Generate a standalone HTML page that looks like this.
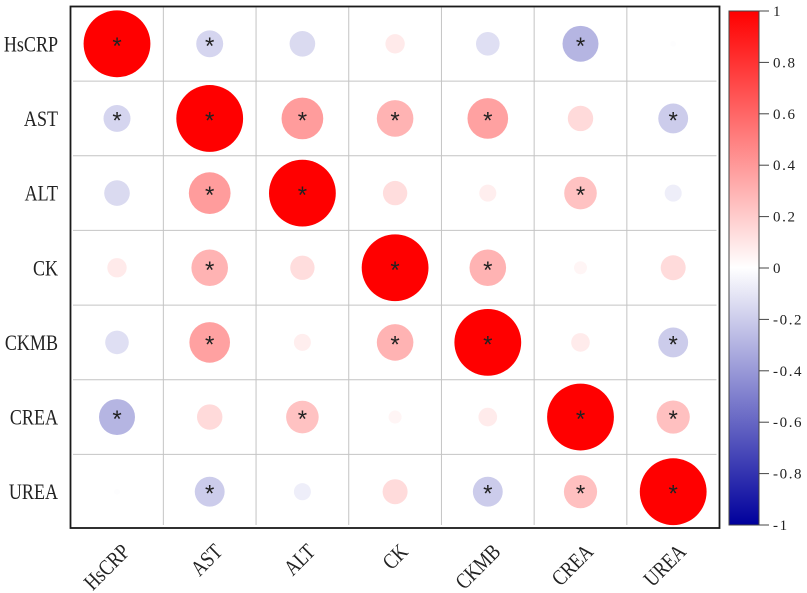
<!DOCTYPE html>
<html lang="en">
<head>
<meta charset="utf-8">
<title>Correlation matrix</title>
<style>
html,body{margin:0;padding:0;background:#fff;width:807px;height:593px;overflow:hidden}
svg{display:block}
text{font-family:"Liberation Serif","Noto Serif CJK SC",serif;fill:#222}
</style>
</head>
<body>
<svg id="chart" xmlns="http://www.w3.org/2000/svg" width="807" height="593" viewBox="0 0 807 593">
<defs>
<linearGradient id="cbar" x1="0" y1="0" x2="0" y2="1">
<stop offset="0" stop-color="#ff0000"/>
<stop offset="0.5" stop-color="#ffffff"/>
<stop offset="1" stop-color="#00009c"/>
</linearGradient>
</defs>
</svg>
<script>
const categories = ['HsCRP','AST','ALT','CK','CKMB','CREA','UREA'];
const matrix = [
  [ 1.000,-0.163,-0.147, 0.084,-0.125,-0.290,-0.008],
  [-0.163, 1.000, 0.390, 0.300, 0.370, 0.145,-0.200],
  [-0.147, 0.390, 1.000, 0.133, 0.065, 0.238,-0.065],
  [ 0.084, 0.300, 0.133, 1.000, 0.300, 0.038, 0.140],
  [-0.125, 0.370, 0.065, 0.300, 1.000, 0.078,-0.200],
  [-0.290, 0.145, 0.238, 0.038, 0.078, 1.000, 0.247],
  [-0.008,-0.200,-0.065, 0.140,-0.200, 0.247, 1.000]
];
const significant = [
  [1,1,0,0,0,1,0],
  [1,1,1,1,1,0,1],
  [0,1,1,0,0,1,0],
  [0,1,0,1,1,0,0],
  [0,1,0,1,1,0,1],
  [1,0,1,0,0,1,1],
  [0,1,0,0,1,1,1]
];
const colorbarTicks = [1,0.8,0.6,0.4,0.2,0,-0.2,-0.4,-0.6,-0.8,-1];

const NS = 'http://www.w3.org/2000/svg';
const svg = document.getElementById('chart');
function mk(tag, attrs, parent) {
  const e = document.createElementNS(NS, tag);
  for (const k in attrs) e.setAttribute(k, attrs[k]);
  (parent || svg).appendChild(e);
  return e;
}
const plot = {left:70.5, top:6.5, right:719.5, bottom:528};
const x0 = 117, xStep = 92.7, y0 = 43.8, yStep = 74.65, maxR = 33.4;
const xPos = i => x0 + i * xStep;
const yPos = i => y0 + i * yStep;
const radius = v => maxR * Math.sqrt(Math.abs(v));
function color(v) {
  const t = Math.min(1, Math.abs(v));
  const c = Math.round(255 * (1 - t));
  if (v >= 0) {
    return 'rgb(255,' + c + ',' + c + ')';
  }
  const b = Math.round(255 - t * (255 - 156));
  return 'rgb(' + c + ',' + c + ',' + b + ')';
}
const cbar = {left:729, right:759, top:11, bottom:525};
const cbarY = v => cbar.top + (1 - v) / 2 * (cbar.bottom - cbar.top);

/* grid */
for (let i = 0; i < categories.length - 1; i++) {
  const gx = (xPos(i) + xPos(i + 1)) / 2;
  const gy = (yPos(i) + yPos(i + 1)) / 2;
  const vLine = mk('line', {x1:gx, x2:gx, y1:plot.top + 1, y2:plot.bottom - 3, stroke:'#c4c4c4', 'stroke-width':1});
  
  
  const hLine = mk('line', {x1:plot.left + 2.5, x2:plot.right - 3, y1:gy, y2:gy, stroke:'#c4c4c4', 'stroke-width':1});
  
  
}

/* cells */
matrix.forEach((row, r) => {
  row.forEach((v, c) => {
    const dot = mk('circle', {cx:xPos(c), cy:yPos(r), r:radius(v), fill:color(v)});
    
    
    if (significant[r][c]) {
      const star = mk('text', {x:xPos(c), y:yPos(r) + 10, 'text-anchor':'middle', 'font-size':24});
      
      
      star.style.fontFamily = '"Liberation Sans",sans-serif';
      star.textContent = '*';
    }
  });
});

/* frame */
const frame = mk('rect', {x:plot.left, y:plot.top, width:plot.right - plot.left, height:plot.bottom - plot.top, fill:'none', stroke:'#1a1a1a', 'stroke-width':1.8});



/* axis labels: tall, condensed serif */
const squeeze = 0.82;
categories.forEach((name, i) => {
  const yl = mk('text', {'text-anchor':'end', 'font-size':22, transform:'translate(58 ' + (yPos(i) + 7.5) + ') scale(' + squeeze + ' 1)'});
  
  
  yl.textContent = name;
  const ax = xPos(i) + 14;
  const xl = mk('text', {'text-anchor':'end', 'font-size':22, transform:'translate(' + ax + ' 553) rotate(-45) scale(' + squeeze + ' 1)'});
  
  
  xl.textContent = name;
});

/* colour bar */
const bar = mk('rect', {x:cbar.left, y:cbar.top, width:cbar.right - cbar.left, height:cbar.bottom - cbar.top, fill:'url(#cbar)', stroke:'#444', 'stroke-width':1});


colorbarTicks.forEach(v => {
  const ty = cbarY(v);
  const tick = mk('line', {x1:cbar.right, x2:cbar.right + 10, y1:ty, y2:ty, stroke:'#444', 'stroke-width':1});
  
  
  const label = mk('text', {x:cbar.right + 14, y:ty + 5, 'font-size':15, 'letter-spacing':1.6});
  
  
  label.textContent = String(v);
});
</script>
</body>
</html>
